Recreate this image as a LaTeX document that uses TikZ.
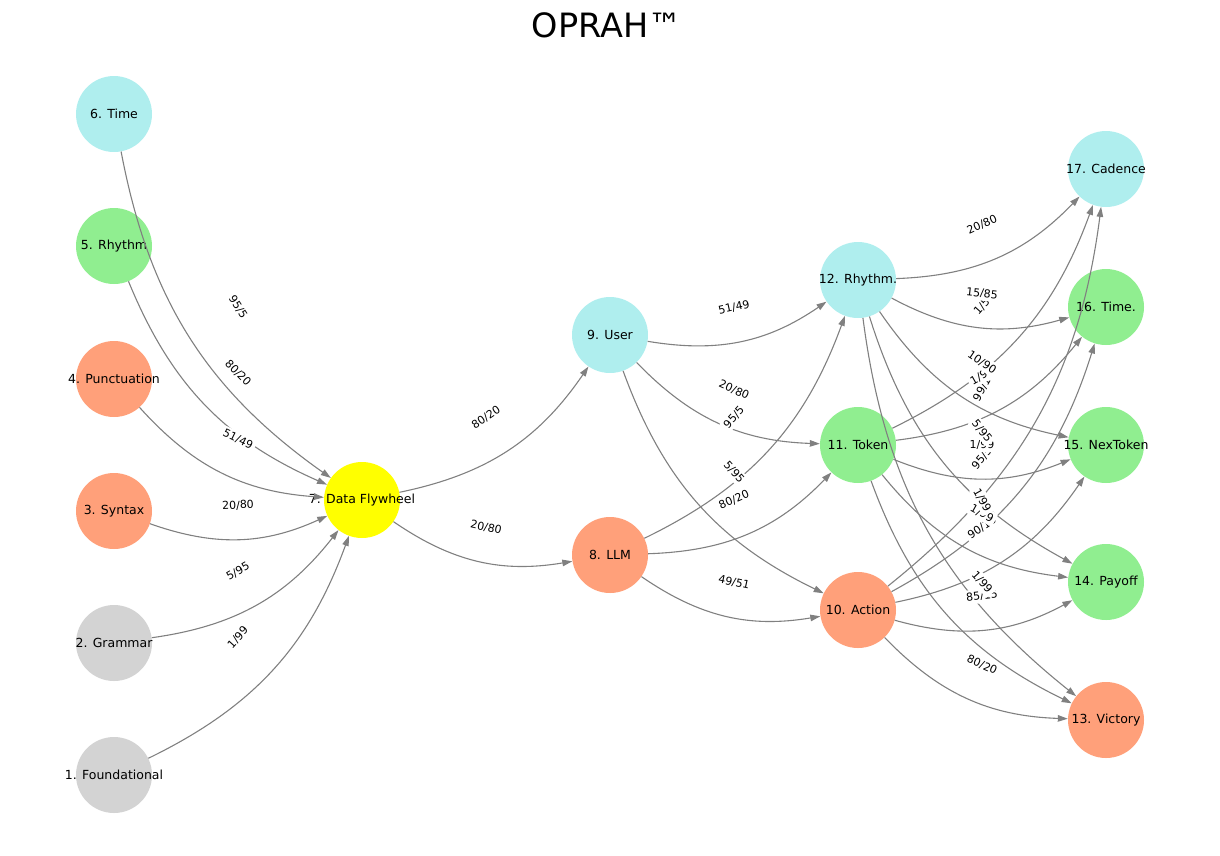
\documentclass[tikz,border=0pt]{standalone}
\usepackage{fontspec}
\setmainfont{DejaVu Sans}
\usetikzlibrary{arrows.meta,calc}
\definecolor{cgray}{HTML}{D3D3D3}
\definecolor{csalmon}{HTML}{FFA07A}
\definecolor{cgreen}{HTML}{90EE90}
\definecolor{cturq}{HTML}{AFEEEE}
\definecolor{cyellow}{HTML}{FFFF00}
\definecolor{cedge}{HTML}{808080}
\newcommand\edgelab[3]{\path (#1) -- node[elab]{#3} (#2);}
\begin{document}
\begin{tikzpicture}[x=1pt,y=-1pt,
  nd/.style={circle, minimum size=76pt, inner sep=0pt, draw=none,
    label={[font=\fontsize{12.5}{14}\selectfont]center:#1}},
  conn/.style={draw=cedge, line width=1.1pt, -{Triangle[length=10pt,width=6.5pt]}, bend right=22},
  elab/.style={sloped, fill=white, inner sep=2.5pt, rounded corners=2pt, font=\fontsize{11}{12}\selectfont},
]
\useasboundingbox (0,0) rectangle (1220,855);
\node[anchor=base, font=\fontsize{33.5}{38}\selectfont] (title) at (607,37) {OPRAH™};
% nodes
\node[nd={1. Foundational}, fill=cgray] (n1) at (114,775) {};
\node[nd={2. Grammar}, fill=cgray] (n2) at (114,643) {};
\node[nd={3. Syntax}, fill=csalmon] (n3) at (114,511) {};
\node[nd={4. Punctuation}, fill=csalmon] (n4) at (114,379) {};
\node[nd={5. Rhythm}, fill=cgreen] (n5) at (114,246) {};
\node[nd={6. Time}, fill=cturq] (n6) at (114,114) {};
\node[nd={7. Data Flywheel}, fill=cyellow] (n7) at (362,500) {};
\node[nd={8. LLM}, fill=csalmon] (n8) at (610,555) {};
\node[nd={9. User}, fill=cturq] (n9) at (610,335) {};
\node[nd={10. Action}, fill=csalmon] (n10) at (858,610) {};
\node[nd={11. Token}, fill=cgreen] (n11) at (858,445) {};
\node[nd={12. Rhythm.}, fill=cturq] (n12) at (858,280) {};
\node[nd={13. Victory}, fill=csalmon] (n13) at (1106,720) {};
\node[nd={14. Payoff}, fill=cgreen] (n14) at (1106,582) {};
\node[nd={15. NexToken}, fill=cgreen] (n15) at (1106,445) {};
\node[nd={16. Time.}, fill=cgreen] (n16) at (1106,307) {};
\node[nd={17. Cadence}, fill=cturq] (n17) at (1106,169) {};
% edges
\draw[conn] (n1) to (n7);
\draw[conn] (n2) to (n7);
\draw[conn] (n3) to (n7);
\draw[conn] (n4) to (n7);
\draw[conn] (n5) to (n7);
\draw[conn] (n6) to (n7);
\draw[conn] (n7) to (n8);
\draw[conn] (n7) to (n9);
\draw[conn] (n8) to (n10);
\draw[conn] (n8) to (n11);
\draw[conn] (n8) to (n12);
\draw[conn] (n9) to (n10);
\draw[conn] (n9) to (n11);
\draw[conn] (n9) to (n12);
\draw[conn] (n10) to (n13);
\draw[conn] (n10) to (n14);
\draw[conn] (n10) to (n15);
\draw[conn] (n10) to (n16);
\draw[conn] (n10) to (n17);
\draw[conn] (n11) to (n13);
\draw[conn] (n11) to (n14);
\draw[conn] (n11) to (n15);
\draw[conn] (n11) to (n16);
\draw[conn] (n11) to (n17);
\draw[conn] (n12) to (n13);
\draw[conn] (n12) to (n14);
\draw[conn] (n12) to (n15);
\draw[conn] (n12) to (n16);
\draw[conn] (n12) to (n17);
% edge labels
\edgelab{n1}{n7}{1/99}
\edgelab{n2}{n7}{5/95}
\edgelab{n3}{n7}{20/80}
\edgelab{n4}{n7}{51/49}
\edgelab{n5}{n7}{80/20}
\edgelab{n6}{n7}{95/5}
\edgelab{n7}{n8}{20/80}
\edgelab{n7}{n9}{80/20}
\edgelab{n8}{n10}{49/51}
\edgelab{n8}{n11}{80/20}
\edgelab{n8}{n12}{95/5}
\edgelab{n9}{n10}{5/95}
\edgelab{n9}{n11}{20/80}
\edgelab{n9}{n12}{51/49}
\edgelab{n10}{n13}{80/20}
\edgelab{n10}{n14}{85/15}
\edgelab{n10}{n15}{90/10}
\edgelab{n10}{n16}{95/5}
\edgelab{n10}{n17}{99/1}
\edgelab{n11}{n13}{1/99}
\edgelab{n11}{n14}{1/99}
\edgelab{n11}{n15}{1/99}
\edgelab{n11}{n16}{1/99}
\edgelab{n11}{n17}{1/5}
\edgelab{n12}{n13}{1/99}
\edgelab{n12}{n14}{5/95}
\edgelab{n12}{n15}{10/90}
\edgelab{n12}{n16}{15/85}
\edgelab{n12}{n17}{20/80}
\end{tikzpicture}
\end{document}
